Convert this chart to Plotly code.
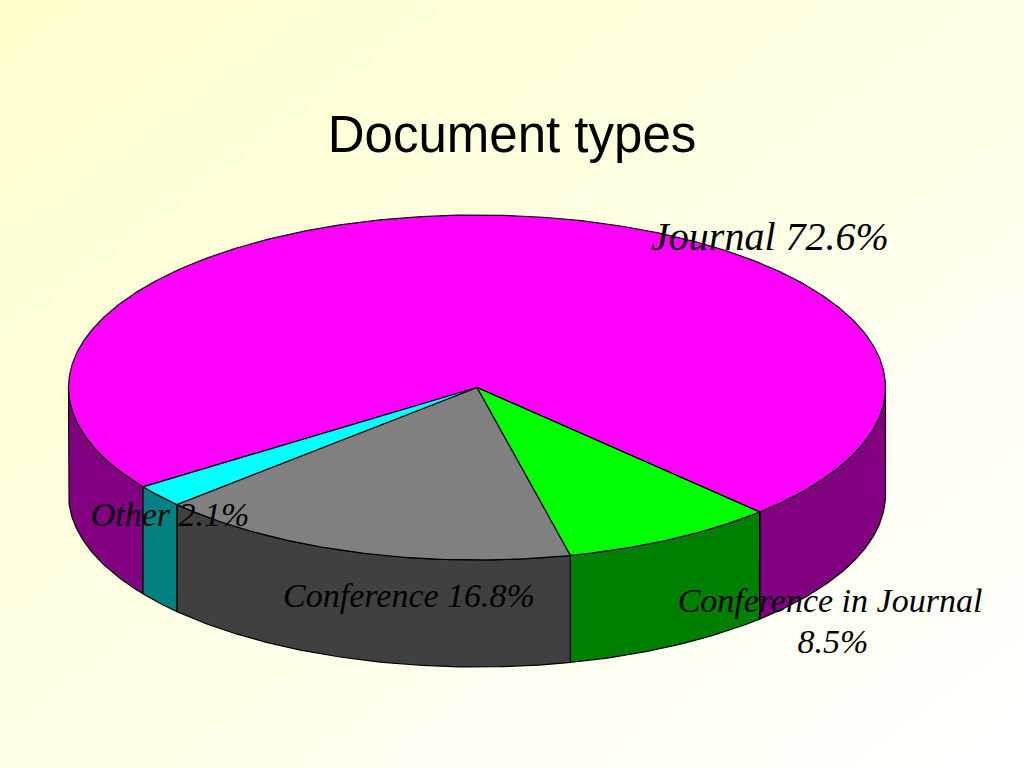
import numpy as np
import plotly.graph_objects as go

# Data
categories = ["Journal", "Conference in Journal", "Conference", "Other"]
values = [72.6, 8.5, 16.8, 2.1]
top_colors = ["#FF00FF", "#00FF00", "#808080", "#00FFFF"]
side_colors = ["#800080", "#008000", "#404040", "#008080"]
labels = ["Journal 72.6%", "Conference in Journal", "8.5%", "Conference 16.8%", "Other 2.1%"]
label_x = [770, 830, 833, 409, 170]
label_y = [240, 603, 644, 598, 517]
label_size = [40, 34, 34, 34, 34]

# Geometry of the projected pie, in page pixels
CX, CY, RX, RY, DEPTH = 477, 387.5, 408.5, 172.5, 107
START_DEG = 46.2  # the Journal slice ends here; slices run clockwise on screen
W, H = 1024, 768


def arc(a0, a1, n=None, dy=0):
    n = n or max(2, int(abs(a1 - a0) * 2))
    t = np.radians(np.linspace(a0, a1, n))
    return CX + RX * np.cos(t), CY + RY * np.sin(t) + dy


fig = go.Figure()

# Page background: diagonal pale yellow to white
fig.add_trace(go.Heatmap(
    x=[0, W], y=[0, H], z=[[0, 0.5], [0.5, 1]],
    colorscale=[[0, "#FFFFCC"], [1, "#FFFFFF"]],
    zsmooth="best", showscale=False, hoverinfo="skip",
))

# Slice angular spans, from the values
spans = []
a = START_DEG + 360 * values[0] / 100 * -1
for v in values:
    b = a + 360 * v / 100
    spans.append((a, b))
    a = b

line = dict(color="black", width=1.2)


def add_poly(x, y, color):
    fig.add_trace(go.Scatter(
        x=x, y=y, mode="lines", fill="toself", fillcolor=color,
        line=line, hoverinfo="skip", showlegend=False,
    ))


# Outer walls (only the front half, 0..180 degrees, is visible)
for (a0, b0), col in zip(spans, side_colors):
    for shift in (0, 360, -360):
        lo, hi = max(a0 + shift, 0), min(b0 + shift, 180)
        if hi > lo:
            xt, yt = arc(lo, hi)
            xb, yb = arc(lo, hi, dy=DEPTH)
            add_poly(np.r_[xt, xb[::-1], xt[0]], np.r_[yt, yb[::-1], yt[0]], col)

# Top faces
for (a0, b0), col in zip(spans, top_colors):
    xt, yt = arc(a0, b0)
    add_poly(np.r_[CX, xt, CX], np.r_[CY, yt, CY], col)

# Slice labels
fig.add_trace(go.Scatter(
    x=label_x, y=label_y, mode="text", text=labels, textposition="middle center",
    textfont=dict(family="Liberation Serif", size=label_size, color="black", style="italic"),
    hoverinfo="skip", showlegend=False,
))

fig.update_layout(
    width=W, height=H, margin=dict(l=0, r=0, t=0, b=0),
    paper_bgcolor="white", plot_bgcolor="rgba(0,0,0,0)", showlegend=False,
    xaxis=dict(range=[0, W], visible=False, fixedrange=True),
    yaxis=dict(range=[H, 0], visible=False, fixedrange=True),
    title=dict(
        text="Document types", x=512 / W, xanchor="center", y=1 - 134 / H, yanchor="middle",
        font=dict(family="Liberation Sans", size=51, color="black"),
    ),
)

fig.write_html(
    "out.html",
    config={"displayModeBar": False},
    post_script="document.body.style.margin='0';document.body.style.overflow='hidden';",
)
